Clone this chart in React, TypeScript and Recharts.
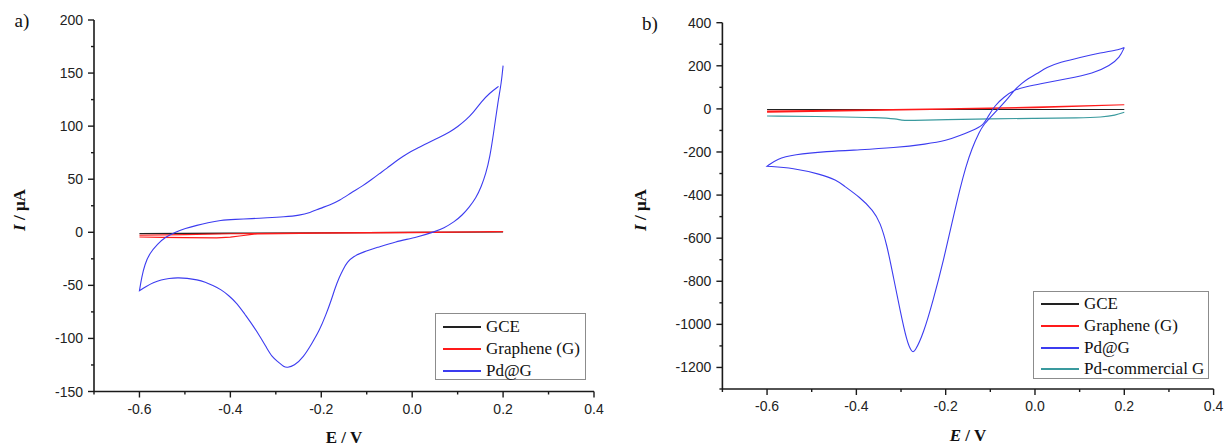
import React from 'react';
import { LineChart, Line, XAxis, YAxis } from 'recharts';

type Pt = { E: number; I: number };

// ---------- tick labels ----------
const xTicks = [-0.7, -0.6, -0.5, -0.4, -0.3, -0.2, -0.1, 0, 0.1, 0.2, 0.3, 0.4];
const yTicksA = [-150, -125, -100, -75, -50, -25, 0, 25, 50, 75, 100, 125, 150, 175, 200];
const yTicksB = [-1300, -1200, -1100, -1000, -900, -800, -700, -600, -500, -400, -300, -200, -100, 0, 100, 200, 300, 400];

// ---------- panel a data ----------
const aGCE: Pt[] = [
  { E: -0.6, I: -1.3 }, { E: -0.4, I: -1.0 }, { E: -0.2, I: -0.6 }, { E: 0.0, I: -0.2 }, { E: 0.2, I: 0.3 },
  { E: 0.0, I: 0.0 }, { E: -0.2, I: -0.4 }, { E: -0.4, I: -0.8 }, { E: -0.6, I: -1.1 },
];
const aGraphene: Pt[] = [
  { E: -0.6, I: -4.4 }, { E: -0.55, I: -4.8 }, { E: -0.5, I: -5.0 }, { E: -0.43, I: -5.3 }, { E: -0.4, I: -4.6 },
  { E: -0.38, I: -3.5 }, { E: -0.34, I: -1.5 }, { E: -0.2, I: -0.8 }, { E: 0.0, I: -0.3 }, { E: 0.2, I: 0.6 },
  { E: 0.0, I: 0.0 }, { E: -0.2, I: -0.5 }, { E: -0.4, I: -1.4 }, { E: -0.5, I: -2.2 }, { E: -0.6, I: -2.8 },
];
const aPdG: Pt[] = [
  { E: 0.2, I: 157 }, { E: 0.196, I: 140 }, { E: 0.189, I: 124 }, { E: 0.179, I: 93 }, { E: 0.171, I: 71 },
  { E: 0.162, I: 55 }, { E: 0.152, I: 43 }, { E: 0.14, I: 32 }, { E: 0.126, I: 24 }, { E: 0.11, I: 16 },
  { E: 0.092, I: 9.7 }, { E: 0.07, I: 4 }, { E: 0.048, I: 0.3 }, { E: 0.013, I: -4.4 }, { E: -0.039, I: -9.1 },
  { E: -0.073, I: -13.8 }, { E: -0.108, I: -18.5 }, { E: -0.13, I: -23 }, { E: -0.143, I: -28 }, { E: -0.152, I: -35 },
  { E: -0.16, I: -42 }, { E: -0.17, I: -53 }, { E: -0.178, I: -64 }, { E: -0.19, I: -78 }, { E: -0.204, I: -92.5 },
  { E: -0.221, I: -105 }, { E: -0.239, I: -117.6 }, { E: -0.26, I: -126 }, { E: -0.275, I: -127.5 }, { E: -0.282, I: -127 },
  { E: -0.295, I: -122 }, { E: -0.308, I: -117.6 }, { E: -0.32, I: -109 }, { E: -0.334, I: -98.7 }, { E: -0.35, I: -88 },
  { E: -0.369, I: -76.7 }, { E: -0.385, I: -67 }, { E: -0.404, I: -59.4 }, { E: -0.42, I: -54 }, { E: -0.439, I: -50 },
  { E: -0.455, I: -47 }, { E: -0.473, I: -44.7 }, { E: -0.495, I: -43.2 }, { E: -0.517, I: -42.8 }, { E: -0.535, I: -43.5 },
  { E: -0.552, I: -44.7 }, { E: -0.57, I: -47.5 }, { E: -0.585, I: -51 },
  { E: -0.6, I: -55 }, { E: -0.6, I: -55 }, { E: -0.6, I: -55 },
  { E: -0.595, I: -42 }, { E: -0.588, I: -30 }, { E: -0.578, I: -20 }, { E: -0.56, I: -11 }, { E: -0.543, I: -4.4 },
  { E: -0.52, I: 0.3 }, { E: -0.5, I: 3.5 }, { E: -0.473, I: 6.6 }, { E: -0.45, I: 9 }, { E: -0.422, I: 11.3 },
  { E: -0.39, I: 12.2 }, { E: -0.352, I: 12.9 }, { E: -0.32, I: 13.6 }, { E: -0.282, I: 14.5 }, { E: -0.247, I: 16 },
  { E: -0.225, I: 18.5 }, { E: -0.204, I: 22.3 }, { E: -0.18, I: 26 }, { E: -0.16, I: 30 }, { E: -0.135, I: 37 },
  { E: -0.108, I: 44 }, { E: -0.09, I: 49.5 }, { E: -0.073, I: 55 }, { E: -0.055, I: 60.5 }, { E: -0.039, I: 66 },
  { E: -0.02, I: 71.5 }, { E: -0.004, I: 76 }, { E: 0.015, I: 80 }, { E: 0.031, I: 83.6 }, { E: 0.06, I: 89.5 },
  { E: 0.083, I: 94.6 }, { E: 0.1, I: 99.5 }, { E: 0.118, I: 105.7 }, { E: 0.135, I: 113 }, { E: 0.152, I: 123 },
  { E: 0.17, I: 131 }, { E: 0.19, I: 137.5 },
];

// ---------- panel b data ----------
const bGCE: Pt[] = [
  { E: -0.6, I: -3 }, { E: -0.2, I: -3 }, { E: 0.2, I: -2.5 }, { E: -0.2, I: -2.5 }, { E: -0.6, I: -2.5 },
];
const bGraphene: Pt[] = [
  { E: -0.6, I: -15 }, { E: -0.4, I: -8 }, { E: -0.2, I: -1 }, { E: 0.0, I: 6 }, { E: 0.2, I: 19 },
  { E: 0.0, I: 8 }, { E: -0.2, I: 0 }, { E: -0.4, I: -5 }, { E: -0.6, I: -10 },
];
const bPdComm: Pt[] = [
  { E: -0.6, I: -33 }, { E: -0.45, I: -36 }, { E: -0.35, I: -40 }, { E: -0.31, I: -46 }, { E: -0.3, I: -53 },
  { E: -0.28, I: -54 }, { E: -0.2, I: -50 }, { E: -0.1, I: -46 }, { E: 0.0, I: -44 }, { E: 0.1, I: -42 },
  { E: 0.15, I: -38 }, { E: 0.18, I: -30 }, { E: 0.2, I: -16 },
];
const bPdG: Pt[] = [
  { E: 0.2, I: 285 }, { E: 0.19, I: 239 }, { E: 0.168, I: 201 }, { E: 0.131, I: 165 }, { E: 0.071, I: 139 },
  { E: 0.011, I: 116 }, { E: -0.02, I: 103 }, { E: -0.045, I: 90 }, { E: -0.07, I: 55 }, { E: -0.09, I: 15 },
  { E: -0.105, I: -35 }, { E: -0.116, I: -77 }, { E: -0.14, I: -100 }, { E: -0.168, I: -124 }, { E: -0.198, I: -147 },
  { E: -0.242, I: -163 }, { E: -0.317, I: -181 }, { E: -0.392, I: -190 }, { E: -0.466, I: -197 }, { E: -0.541, I: -212 },
  { E: -0.578, I: -232 },
  { E: -0.6, I: -266 }, { E: -0.6, I: -266 }, { E: -0.6, I: -266 },
  { E: -0.541, I: -274 }, { E: -0.481, I: -303 }, { E: -0.444, I: -330 }, { E: -0.429, I: -356 }, { E: -0.392, I: -410 },
  { E: -0.362, I: -472 }, { E: -0.347, I: -526 }, { E: -0.332, I: -626 }, { E: -0.317, I: -781 }, { E: -0.302, I: -936 },
  { E: -0.287, I: -1080 }, { E: -0.276, I: -1130 }, { E: -0.269, I: -1128 }, { E: -0.25, I: -1044 }, { E: -0.228, I: -889 },
  { E: -0.205, I: -704 }, { E: -0.183, I: -503 }, { E: -0.168, I: -371 }, { E: -0.155, I: -270 }, { E: -0.142, I: -186 },
  { E: -0.123, I: -101 }, { E: -0.116, I: -77 }, { E: -0.1, I: -40 }, { E: -0.08, I: 5 }, { E: -0.06, I: 50 },
  { E: -0.045, I: 90 }, { E: -0.03, I: 118 }, { E: -0.015, I: 142 }, { E: 0.004, I: 162 }, { E: 0.026, I: 193 },
  { E: 0.056, I: 216 }, { E: 0.101, I: 239 }, { E: 0.146, I: 260 }, { E: 0.191, I: 276 }, { E: 0.2, I: 285 },
];

const C_GCE = '#222222';
const C_G = '#ff1a1a';
const C_PDG = '#3c3cf0';
const C_COMM = '#3a9a9e';

const SANS = '"Liberation Sans", Arial, sans-serif';
const SERIF = '"Liberation Serif", "Times New Roman", serif';
const AXIS = '#1a1a1a';

const XTick = (props: any) => {
  const { x, y, payload } = props;
  const v = payload.value as number;
  const major = Math.round(v * 10) % 2 === 0;
  return (
    <g>
      <line x1={x} x2={x} y1={y} y2={y + (major ? 6 : 3)} stroke={AXIS} strokeWidth={1.4} />
      {major && (
        <text x={x} y={y + 22} textAnchor="middle" fontFamily={SANS} fontSize={14} fill="#222">
          {v.toFixed(1)}
        </text>
      )}
    </g>
  );
};

const makeYTick = (step: number) => (props: any) => {
  const { x, y, payload } = props;
  const v = payload.value as number;
  const major = v % step === 0;
  return (
    <g>
      <line x1={x} x2={x - (major ? 6 : 3)} y1={y} y2={y} stroke={AXIS} strokeWidth={1.4} />
      {major && (
        <text x={x - 11} y={y} dy={5} textAnchor="end" fontFamily={SANS} fontSize={14} fill="#222">
          {v}
        </text>
      )}
    </g>
  );
};

const YTickA = makeYTick(50);
const YTickB = makeYTick(200);

type LegendItem = { label: string; color: string };

const LegendBox = ({ left, top, width, height, rows, items }: { left: number; top: number; width: number; height: number; rows: number[]; items: LegendItem[] }) => (
  <div
    style={{
      position: 'absolute', left, top, width, height, boxSizing: 'border-box',
      border: '1.5px solid #8c8c8c', background: '#fff',
    }}
  >
    {items.map((it, i) => (
      <div key={it.label}>
        <div style={{ position: 'absolute', left: 7, width: 38, top: rows[i] - 1, height: 2, background: it.color }} />
        <div style={{ position: 'absolute', left: 50, top: rows[i] - 10, lineHeight: '20px', fontFamily: SERIF, fontSize: 17, color: '#111', whiteSpace: 'nowrap' }}>
          {it.label}
        </div>
      </div>
    ))}
  </div>
);

const Abs = ({ x, y, rotate, children, style }: any) => (
  <div
    style={{
      position: 'absolute', left: x, top: y, whiteSpace: 'nowrap',
      transform: `translate(-50%, -50%)${rotate ? ` rotate(${rotate}deg)` : ''}`,
      ...style,
    }}
  >
    {children}
  </div>
);

export default function App() {
  return (
    <div style={{ position: 'absolute', left: 0, top: 0, width: 1226, height: 448, background: '#fff', overflow: 'hidden' }}>
      {/* Panel a */}
      <div style={{ position: 'absolute', left: 0, top: 0, width: 620, height: 448 }}>
        <LineChart width={620} height={448} margin={{ top: 20, right: 26, bottom: 26.5, left: 44 }}>
          <XAxis
            type="number" dataKey="E" domain={[-0.7, 0.4]} ticks={xTicks} interval={0} allowDataOverflow
            height={30} tickSize={0} tickMargin={0} tickLine={false} tick={XTick}
            axisLine={{ stroke: AXIS, strokeWidth: 1.6 }}
          />
          <YAxis
            type="number" domain={[-150, 200]} ticks={yTicksA} interval={0} allowDataOverflow
            width={50} tickSize={0} tickMargin={0} tickLine={false} tick={YTickA}
            axisLine={{ stroke: AXIS, strokeWidth: 1.6 }}
          />
          <Line data={aGCE} dataKey="I" type="linear" dot={false} stroke={C_GCE} strokeWidth={1.1} isAnimationActive={false} />
          <Line data={aGraphene} dataKey="I" type="linear" dot={false} stroke={C_G} strokeWidth={1.1} isAnimationActive={false} />
          <Line data={aPdG} dataKey="I" type="basis" dot={false} stroke={C_PDG} strokeWidth={1.1} isAnimationActive={false} />
        </LineChart>
      </div>

      {/* Panel b */}
      <div style={{ position: 'absolute', left: 620, top: 0, width: 606, height: 448 }}>
        <LineChart width={606} height={448} margin={{ top: 22.7, right: 12.4, bottom: 29, left: 52.4 }}>
          <XAxis
            type="number" dataKey="E" domain={[-0.7, 0.4]} ticks={xTicks} interval={0} allowDataOverflow
            height={30} tickSize={0} tickMargin={0} tickLine={false} tick={XTick}
            axisLine={{ stroke: AXIS, strokeWidth: 1.6 }}
          />
          <YAxis
            type="number" domain={[-1300, 400]} ticks={yTicksB} interval={0} allowDataOverflow
            width={50} tickSize={0} tickMargin={0} tickLine={false} tick={YTickB}
            axisLine={{ stroke: AXIS, strokeWidth: 1.6 }}
          />
          <Line data={bGCE} dataKey="I" type="linear" dot={false} stroke={C_GCE} strokeWidth={1.1} isAnimationActive={false} />
          <Line data={bGraphene} dataKey="I" type="linear" dot={false} stroke={C_G} strokeWidth={1.1} isAnimationActive={false} />
          <Line data={bPdComm} dataKey="I" type="basis" dot={false} stroke={C_COMM} strokeWidth={1.1} isAnimationActive={false} />
          <Line data={bPdG} dataKey="I" type="basis" dot={false} stroke={C_PDG} strokeWidth={1.1} isAnimationActive={false} />
        </LineChart>
      </div>

      {/* panel letters */}
      <Abs x={22} y={21} style={{ fontFamily: SERIF, fontSize: 19, color: '#111' }}>a)</Abs>
      <Abs x={650} y={24} style={{ fontFamily: SERIF, fontSize: 19, color: '#111' }}>b)</Abs>

      {/* axis titles */}
      <Abs x={20} y={210} rotate={-90} style={{ fontFamily: SERIF, fontSize: 17, fontWeight: 'bold', color: '#111' }}>
        <i>I</i> / μA
      </Abs>
      <Abs x={641} y={210} rotate={-90} style={{ fontFamily: SERIF, fontSize: 17, fontWeight: 'bold', color: '#111' }}>
        <i>I</i> / μA
      </Abs>
      <Abs x={344} y={438} style={{ fontFamily: SERIF, fontSize: 17, fontWeight: 'bold', color: '#111' }}>
        E / V
      </Abs>
      <Abs x={968} y={436} style={{ fontFamily: SERIF, fontSize: 17, fontWeight: 'bold', color: '#111' }}>
        <i>E</i> / V
      </Abs>

      {/* legends */}
      <LegendBox
        left={435} top={313} width={151} height={67} rows={[13, 35, 57]}
        items={[
          { label: 'GCE', color: C_GCE },
          { label: 'Graphene (G)', color: C_G },
          { label: 'Pd@G', color: C_PDG },
        ]}
      />
      <LegendBox
        left={1033} top={291} width={176} height={88} rows={[12, 34, 56, 77]}
        items={[
          { label: 'GCE', color: C_GCE },
          { label: 'Graphene (G)', color: C_G },
          { label: 'Pd@G', color: C_PDG },
          { label: 'Pd-commercial G', color: C_COMM },
        ]}
      />
    </div>
  );
}
